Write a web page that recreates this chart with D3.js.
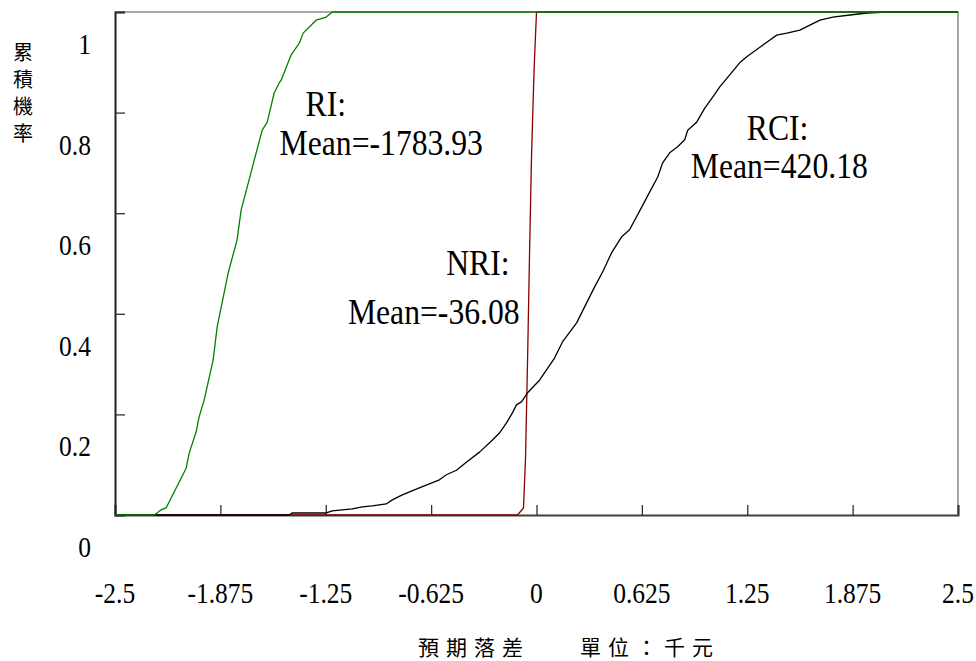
<!DOCTYPE html>
<html>
<head>
<meta charset="utf-8">
<script src="https://cdn.jsdelivr.net/npm/d3@7"></script>
<style>
  html, body { margin: 0; padding: 0; background: #fff; }
  svg { display: block; }
  .num { font-family: "Liberation Serif", "DejaVu Serif", serif; fill: #000; }
  .cjk { font-family: "Noto Sans CJK TC", "Noto Sans CJK SC", sans-serif; fill: #000; }
</style>
</head>
<body>
<svg id="chart" width="976" height="661"></svg>
<script>
// Cumulative distributions of the expected shortfall (thousand NTD)
const riX  = [-2.5, -2.268, -2.227, -2.197, -2.078, -2.060, -2.019, -2.001, -1.971, -1.918, -1.894, -1.853, -1.829, -1.776, -1.752, -1.716, -1.669, -1.627, -1.597, -1.556, -1.526, -1.514, -1.455, -1.407, -1.384, -1.306, -1.247, -1.211, 2.5];
const riP  = [0, 0, 0.010, 0.014, 0.093, 0.123, 0.165, 0.195, 0.229, 0.308, 0.374, 0.441, 0.481, 0.547, 0.606, 0.652, 0.712, 0.765, 0.781, 0.839, 0.859, 0.865, 0.915, 0.938, 0.958, 0.984, 0.990, 1, 1];

const nriX = [-2.5, -0.113, -0.077, -0.065, -0.053, -0.042, -0.030, -0.018, -0.012, 0, 2.5];
const nriP = [0, 0, 0.014, 0.115, 0.308, 0.507, 0.706, 0.845, 0.905, 1, 1];

const rciX = [-2.5, -1.467, -1.45, -1.247, -1.211, -1.093, -1.033, -0.974, -0.891, -0.855, -0.796, -0.695, -0.576, -0.534, -0.475, -0.416, -0.338, -0.261, -0.220, -0.178, -0.143, -0.119, -0.089, -0.053, 0.018, 0.107, 0.154, 0.238, 0.344, 0.392, 0.445, 0.505, 0.552, 0.624, 0.671, 0.719, 0.748, 0.790, 0.837, 0.879, 0.897, 0.950, 0.998, 1.045, 1.087, 1.146, 1.205, 1.247, 1.366, 1.425, 1.485, 1.562, 1.681, 1.758, 1.859, 1.960, 2.078, 2.5];
const rciP = [0, 0, 0.004, 0.004, 0.008, 0.012, 0.016, 0.018, 0.022, 0.030, 0.040, 0.054, 0.070, 0.080, 0.089, 0.105, 0.125, 0.149, 0.163, 0.183, 0.203, 0.219, 0.225, 0.243, 0.268, 0.312, 0.344, 0.382, 0.453, 0.483, 0.521, 0.553, 0.567, 0.612, 0.642, 0.672, 0.700, 0.720, 0.732, 0.746, 0.765, 0.781, 0.809, 0.831, 0.851, 0.875, 0.899, 0.911, 0.940, 0.954, 0.958, 0.964, 0.984, 0.990, 0.994, 0.998, 1, 1];

const xTicks = [-2.5, -1.875, -1.25, -0.625, 0, 0.625, 1.25, 1.875, 2.5];
const xTickLabels = ["-2.5", "-1.875", "-1.25", "-0.625", "0", "0.625", "1.25", "1.875", "2.5"];
const yTicks = [0, 0.2, 0.4, 0.6, 0.8, 1];
const yTickLabels = ["0", "0.2", "0.4", "0.6", "0.8", "1"];

const seriesNames = ["RI", "NRI", "RCI"];
const seriesMeans = ["-1783.93", "-36.08", "420.18"];
const seriesColors = ["#008000", "#8b0000", "#000000"];

const yTitle = ["累", "積", "機", "率"];
const xTitleParts = ["預期落差", "單位：千元"];

// ---- layout ----
const plotL = 115, plotR = 958, plotT = 12, plotB = 515;
const svg = d3.select("#chart");
const x = d3.scaleLinear().domain([-2.5, 2.5]).range([plotL, plotR]);
const y = d3.scaleLinear().domain([0, 1]).range([plotB, plotT]);
const squeeze = 0.88;

// frame: top and right edges in grey
svg.append("path")
  .attr("d", `M${plotL},${plotT}H${plotR}V${plotB}`)
  .attr("fill", "none").attr("stroke", "#8a8a8a").attr("stroke-width", 1.5);

// bottom axis with inward ticks
const xAxis = d3.axisBottom(x).tickValues(xTicks).tickSize(-10).tickFormat("");
const gx = svg.append("g").attr("transform", `translate(0,${plotB})`).call(xAxis);
gx.select(".domain").attr("stroke", "#404040").attr("stroke-width", 2);
gx.selectAll(".tick line").attr("stroke", "#303030").attr("stroke-width", 1.3);

// left axis with inward ticks
const yAxis = d3.axisLeft(y).tickValues(yTicks).tickSize(-10).tickFormat("");
const gy = svg.append("g").attr("transform", `translate(${plotL},0)`).call(yAxis);
gy.select(".domain").attr("stroke", "#202020").attr("stroke-width", 2);
gy.selectAll(".tick line").attr("stroke", "#303030").attr("stroke-width", 1.3);

// x tick labels
svg.append("g").selectAll("text")
  .data(xTicks)
  .join("text")
  .attr("class", "num")
  .attr("font-size", 29)
  .attr("text-anchor", "middle")
  .attr("transform", d => `translate(${x(d)},603) scale(${squeeze},1)`)
  .text((d, i) => xTickLabels[i]);

// y tick labels (set below their tick marks)
svg.append("g").selectAll("text")
  .data(yTicks)
  .join("text")
  .attr("class", "num")
  .attr("font-size", 29)
  .attr("text-anchor", "end")
  .attr("transform", d => `translate(91,${y(d) + 42}) scale(${squeeze},1)`)
  .text((d, i) => yTickLabels[i]);

// cumulative curves
const line = d3.line().x(d => x(d[0])).y(d => y(d[1]));
const series = [
  { xs: nriX, ps: nriP, c: seriesColors[1] },
  { xs: rciX, ps: rciP, c: seriesColors[2] },
  { xs: riX,  ps: riP,  c: seriesColors[0] }
];
svg.append("g").selectAll("path")
  .data(series)
  .join("path")
  .attr("fill", "none")
  .attr("stroke", d => d.c)
  .attr("stroke-width", 1.3)
  .attr("stroke-linejoin", "round")
  .attr("d", d => line(d.xs.map((v, i) => [v, d.ps[i]])));

// annotations: series name and mean
const notes = [
  { name: 0, anchor: "start",  nx: -1.37, ny: 0.794, mx: -1.524, my: 0.715 },
  { name: 1, anchor: "end",    nx: -0.16, ny: 0.477, mx: -0.10,  my: 0.38 },
  { name: 2, anchor: "middle", nx: 1.43,  ny: 0.745, mx: 1.44,   my: 0.67 }
];
const gn = svg.append("g");
notes.forEach(n => {
  gn.append("text").attr("class", "num").attr("font-size", 36)
    .attr("text-anchor", n.anchor)
    .attr("transform", `translate(${x(n.nx)},${y(n.ny)}) scale(${squeeze},1)`)
    .text(seriesNames[n.name] + ":");
  gn.append("text").attr("class", "num").attr("font-size", 36)
    .attr("text-anchor", n.anchor)
    .attr("transform", `translate(${x(n.mx)},${y(n.my)}) scale(${squeeze},1)`)
    .text("Mean=" + seriesMeans[n.name]);
});

// vertical y-axis title, one character per line
svg.append("g").selectAll("text")
  .data(yTitle)
  .join("text")
  .attr("class", "cjk")
  .attr("font-size", 20)
  .attr("text-anchor", "middle")
  .attr("x", 23)
  .attr("y", (d, i) => 60 + i * 27)
  .text(d => d);

// x-axis title
const xt = svg.append("text").attr("class", "cjk").attr("font-size", 21)
  .attr("letter-spacing", 7).attr("y", 655);
xt.append("tspan").attr("x", 418).text(xTitleParts[0]);
xt.append("tspan").attr("x", 580).text(xTitleParts[1]);
</script>
</body>
</html>
